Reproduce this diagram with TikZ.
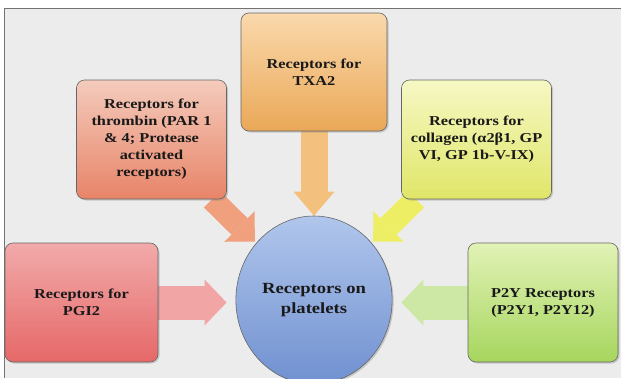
\documentclass[tikz,border=0pt]{standalone}
\usepackage{fontspec}
\setmainfont{Liberation Serif}[FakeStretch=1.2]
\usetikzlibrary{arrows.meta,shapes.geometric,shadows,backgrounds}
\definecolor{bggray}{RGB}{236,236,236}
\definecolor{txatop}{RGB}{250,217,172}
\definecolor{txabot}{RGB}{234,168,88}
\definecolor{txaarr}{RGB}{243,192,126}
\definecolor{thrtop}{RGB}{244,203,188}
\definecolor{thrbot}{RGB}{232,132,104}
\definecolor{thrarr}{RGB}{240,160,125}
\definecolor{coltop}{RGB}{246,248,196}
\definecolor{colbot}{RGB}{224,230,104}
\definecolor{colarr}{RGB}{238,238,100}
\definecolor{pgitop}{RGB}{242,170,170}
\definecolor{pgibot}{RGB}{230,104,104}
\definecolor{pgiarr}{RGB}{242,165,165}
\definecolor{ptytop}{RGB}{226,242,182}
\definecolor{ptybot}{RGB}{166,214,94}
\definecolor{ptyarr}{RGB}{204,232,164}
\definecolor{plttop}{RGB}{176,198,236}
\definecolor{pltbot}{RGB}{112,144,208}
\tikzset{
  fatarrow/.style n args={3}{line width=#1, -{Triangle[length=#3,width=#2,line width=0pt]}},
  myshadow/.style={drop shadow={shadow xshift=1.5pt,shadow yshift=-1.5pt,opacity=0.35}}
}
\begin{document}
\begin{tikzpicture}[x=1pt,y=-1pt]
            \useasboundingbox (0,0) rectangle (621,378);
            \begin{scope}[every node/.style={rectangle,rounded corners=8pt,draw=black!60,line width=0.6pt,minimum width=150pt,minimum height=119pt,align=center,text=black!90,font=\bfseries\fontsize{13.6}{17}\selectfont,myshadow}]
                \node[top color=txatop,bottom color=txabot,minimum width=146pt,minimum height=118pt] (txa) at (314,72) {Receptors for\\TXA2};
                \node[top color=thrtop,bottom color=thrbot] (thr) at (151.5,139.5) {Receptors for\\thrombin (PAR 1\\\& 4; Protease\\activated\\receptors)};
                \node[top color=coltop,bottom color=colbot] (col) at (476.5,139.5) {Receptors for\\collagen (α2β1, GP\\VI, GP 1b-V-IX)};
                \node[top color=pgitop,bottom color=pgibot,minimum width=153pt] (pgi) at (81.5,302.5) {Receptors for\\PGI2};
                \node[top color=ptytop,bottom color=ptybot] (pty) at (543,302.5) {P2Y Receptors\\(P2Y1, P2Y12)};
            \end{scope}
            \node[ellipse,draw=black!60,line width=0.6pt,top color=plttop,bottom color=pltbot,minimum width=156pt,minimum height=168pt,align=center,text=black!90,font=\bfseries\fontsize{15.5}{20}\selectfont,myshadow] (plt) at (314,300) {Receptors on\\platelets};
            \begin{scope}[on background layer]
                \fill[white] (0,0) rectangle (621,378);
                \fill[bggray] (4,8) rectangle (621,378);
                \draw[black!55,line width=0.8pt] (4,378) -- (4,8) -- (621,8);
                \draw[fatarrow={27pt}{41pt}{24pt},draw=txaarr] (txa) -- (plt);
                \draw[fatarrow={23pt}{43pt}{21.5pt},draw=thrarr,shorten >=2pt] (thr) -- (plt);
                \draw[fatarrow={23pt}{43pt}{21.5pt},draw=colarr,shorten >=2pt] (col) -- (plt);
                \draw[fatarrow={34pt}{46pt}{22pt},draw=pgiarr,shorten >=9pt] (pgi.east) -- (pgi.east -| plt.west);
                \draw[fatarrow={34pt}{46pt}{22pt},draw=ptyarr,shorten >=9pt] (pty.west) -- (pty.west -| plt.east);
            \end{scope}
        \end{tikzpicture}
\end{document}
